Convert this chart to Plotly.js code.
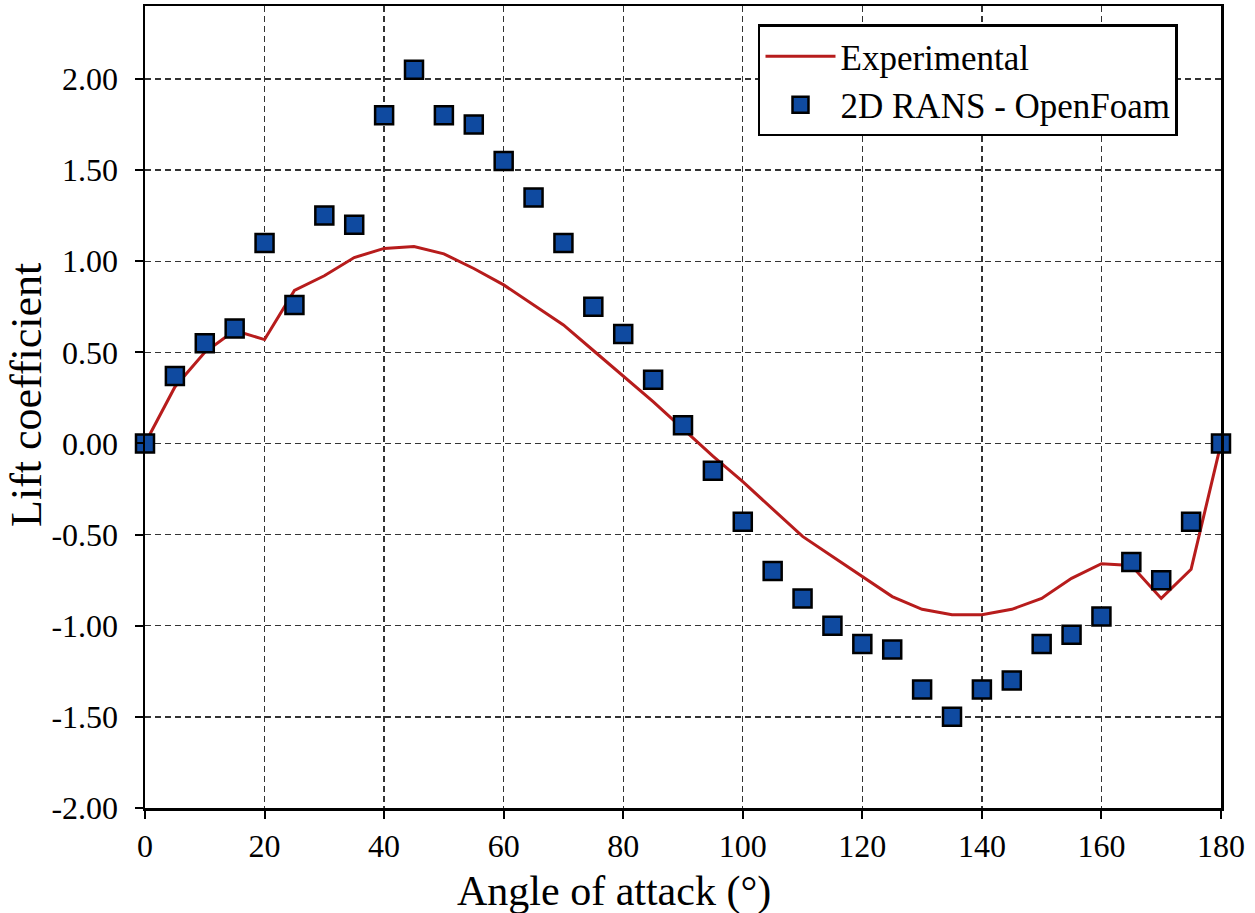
<!DOCTYPE html>
<html>
<head>
<meta charset="utf-8">
<script src="https://cdn.plot.ly/plotly-3.0.1.min.js"></script>
<style>
  html, body { margin: 0; padding: 0; background: #ffffff; }
  #chart { width: 1255px; height: 913px; }
</style>
</head>
<body>
<div id="chart"></div>
<script>
// Lift coefficient vs angle of attack
const angles = [0, 5, 10, 15, 20, 25, 30, 35, 40, 45, 50, 55, 60, 65, 70, 75, 80, 85, 90,
                95, 100, 105, 110, 115, 120, 125, 130, 135, 140, 145, 150, 155, 160, 165, 170, 175, 180];

// Experimental lift curve
const liftExperimental = [0.00, 0.31, 0.50, 0.62, 0.57, 0.84, 0.92, 1.02, 1.07, 1.08, 1.04, 0.96, 0.87, 0.76, 0.65, 0.51, 0.37, 0.23, 0.08,
                          -0.07, -0.21, -0.36, -0.51, -0.62, -0.73, -0.84, -0.91, -0.94, -0.94, -0.91, -0.85, -0.74, -0.66, -0.67, -0.85, -0.69, 0.00];

// 2D RANS (OpenFoam) results
const liftRans = [0.00, 0.37, 0.55, 0.63, 1.10, 0.76, 1.25, 1.20, 1.80, 2.05, 1.80, 1.75, 1.55, 1.35, 1.10, 0.75, 0.60, 0.35, 0.10,
                  -0.15, -0.43, -0.70, -0.85, -1.00, -1.10, -1.13, -1.35, -1.50, -1.35, -1.30, -1.10, -1.05, -0.95, -0.65, -0.75, -0.43, 0.00];

const xTicks = [0, 20, 40, 60, 80, 100, 120, 140, 160, 180];
const yTicks = [-2.0, -1.5, -1.0, -0.5, 0.0, 0.5, 1.0, 1.5, 2.0];
const yTickText = ['-2.00', '-1.50', '-1.00', '-0.50', '0.00', '0.50', '1.00', '1.50', '2.00'];

const xTitle = 'Angle of attack (°)';
const yTitle = 'Lift coefficient';

const serif = 'Liberation Serif, Times New Roman, serif';

const traces = [
  {
    x: angles,
    y: liftExperimental,
    type: 'scatter',
    mode: 'lines',
    name: 'Experimental',
    line: { color: '#b71c1c', width: 3 },
    cliponaxis: false
  },
  {
    x: angles,
    y: liftRans,
    type: 'scatter',
    mode: 'markers',
    name: '2D RANS - OpenFoam',
    marker: {
      symbol: 'square',
      size: 18,
      color: '#0f4aa0',
      line: { color: '#000000', width: 2.5 }
    },
    cliponaxis: false
  }
];

const axisCommon = {
  showline: true,
  linecolor: '#000000',
  linewidth: 2.5,
  mirror: true,
  ticks: 'outside',
  ticklen: 8,
  tickwidth: 2,
  tickcolor: '#000000',
  showgrid: true,
  gridcolor: '#333333',
  gridwidth: 1.3,
  griddash: '6px,4px',
  zeroline: false,
  tickfont: { family: serif, size: 32, color: '#000000' }
};

const layout = {
  width: 1255,
  height: 913,
  margin: { l: 145, r: 34, t: 6, b: 105 },
  paper_bgcolor: '#ffffff',
  plot_bgcolor: '#ffffff',
  font: { family: serif, color: '#000000' },
  showlegend: true,
  legend: {
    x: 0.5697,
    y: 0.977,
    xanchor: 'left',
    yanchor: 'top',
    bgcolor: '#ffffff',
    bordercolor: '#000000',
    borderwidth: 2.5,
    itemwidth: 70,
    font: { family: serif, size: 35, color: '#000000' }
  },
  xaxis: Object.assign({}, axisCommon, {
    range: [0, 180],
    tickmode: 'array',
    tickvals: xTicks,
    ticktext: xTicks.map(String),
    ticklabelstandoff: 0
  }),
  yaxis: Object.assign({}, axisCommon, {
    range: [-2.0, 2.4],
    tickmode: 'array',
    tickvals: yTicks,
    ticktext: yTickText,
    ticklabelstandoff: 10
  }),
  annotations: [
    {
      text: xTitle,
      xref: 'paper', yref: 'paper',
      x: 0.4359, y: -0.1045,
      xanchor: 'center', yanchor: 'middle',
      showarrow: false,
      font: { family: serif, size: 42, color: '#000000' }
    },
    {
      text: yTitle,
      xref: 'paper', yref: 'paper',
      x: -0.1097, y: 0.515,
      xanchor: 'center', yanchor: 'middle',
      textangle: -90,
      showarrow: false,
      font: { family: serif, size: 44, color: '#000000' }
    }
  ]
};

Plotly.newPlot('chart', traces, layout, { displayModeBar: false, staticPlot: true });
</script>
</body>
</html>
